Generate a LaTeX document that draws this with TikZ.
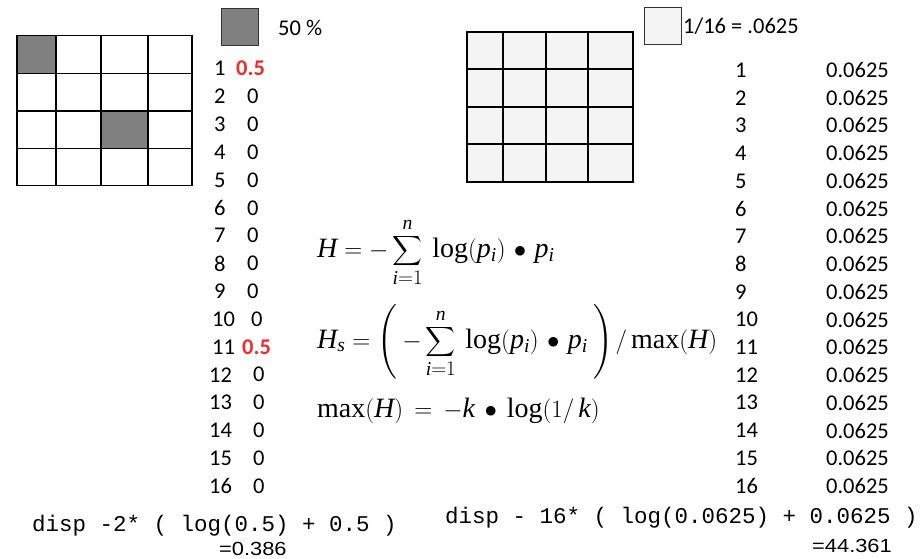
\documentclass[tikz,border=0pt]{standalone}
\usepackage{exscale}
\usepackage{fontspec}
\setmainfont{Carlito}
\setmonofont{Liberation Mono}
\setmathrm{Liberation Serif}
\newfontfamily\resultfont{Liberation Sans}
\newfontfamily\tmsfont[NFSSFamily=tmsx]{Liberation Serif}
\DeclareSymbolFont{tmsletters}{TU}{tmsx}{m}{it}
\DeclareSymbolFont{tmsupright}{TU}{tmsx}{m}{n}
\DeclareMathSymbol{H}{\mathalpha}{tmsletters}{`H}
\DeclareMathSymbol{k}{\mathalpha}{tmsletters}{`k}
\DeclareMathSymbol{n}{\mathalpha}{tmsletters}{`n}
\DeclareMathSymbol{p}{\mathalpha}{tmsletters}{`p}
\DeclareMathSymbol{i}{\mathalpha}{tmsletters}{`i}
\DeclareMathSymbol{s}{\mathalpha}{tmsletters}{`s}
\DeclareMathSymbol{/}{\mathord}{tmsupright}{`/}
\DeclareMathSymbol{1}{\mathord}{tmsupright}{`1}
\DeclareMathSymbol{(}{\mathopen}{tmsupright}{`(}
\DeclareMathSymbol{)}{\mathclose}{tmsupright}{`)}
\DeclareMathSymbol{=}{\mathrel}{tmsupright}{`=}
\newcommand\smsum{\mathop{\vcenter{\hbox{\fontsize{22}{26}\selectfont$\displaystyle\sum$}}}\limits}
\newcommand\tallstrut{\vcenter{\hbox{\rule{0pt}{70pt}}}}
\definecolor{cellgray}{RGB}{128,128,128}
\definecolor{cellpale}{RGB}{243,244,243}
\definecolor{hotred}{RGB}{240,45,45}
\begin{document}
\begin{tikzpicture}[x=1pt,y=-1pt,
  txt/.style={font=\fontsize{22.5}{27}\selectfont, inner sep=0pt, anchor=west},
  redval/.style={txt, text=hotred, font=\fontsize{22.5}{27}\selectfont\bfseries},
  valright/.style={txt, anchor=east},
  gridline/.style={line width=1.3pt, draw=black, line cap=rect},
  legendbox/.style={draw=black!80, line width=1pt, inner sep=0pt, minimum width=37pt, minimum height=37pt},
  eqn/.style={font=\fontsize{28}{34}\selectfont, inner sep=0pt, anchor=base west},
  code/.style={font=\fontsize{22.5}{27}\selectfont\ttfamily, inner sep=0pt, anchor=west},
  result/.style={font=\fontsize{19}{23}\selectfont\resultfont, inner sep=0pt, anchor=west}
]
\useasboundingbox (0,0) rectangle (924,559);

% ---- left grid ----
\fill[cellgray] (17,35.7) rectangle (56,73.3);
\fill[cellgray] (101,111) rectangle (148,148.3);
\foreach \gx in {17,56,101,148,192} \draw[gridline] (\gx,35.7) -- (\gx,185.7);
\foreach \gy in {35.7,73.3,111,148.3,185.7} \draw[gridline] (17,\gy) -- (192,\gy);

% ---- right grid ----
\fill[cellpale] (467,32) rectangle (633,182);
\foreach \gx in {467,503,546,588,633} \draw[gridline] (\gx,32) -- (\gx,182);
\foreach \gy in {32,69,107,144,182} \draw[gridline] (467,\gy) -- (633,\gy);

% ---- legends ----
\node[legendbox, fill=cellgray] (legA) at (239.5,27.5) {};
\node[txt] (legAtxt) at (278,28) {50 \%};
\node[legendbox, fill=cellpale] (legB) at (663,26.5) {};
\node[txt] (legBtxt) at (683,26) {1/16 = .0625};

% ---- left list ----
\foreach \i in {1,...,9} {
  \node[txt] (ln\i) at (214,{68.7+27.82*(\i-1)}) {\i};
}
\foreach \i in {2,...,9} {
  \node[txt] (lv\i) at (247,{68.7+27.82*(\i-1)}) {0};
}
\node[redval] (lv1) at (236,68.7) {0.5};
\node[txt] (ln10) at (212,{68.7+27.82*9}) {10};
\node[txt] (lv10) at (251,{68.7+27.82*9}) {0};
\node[txt] (ln11) at (212,{68.7+27.82*10}) {11};
\node[redval] (lv11) at (242,{68.7+27.82*10}) {0.5};
\foreach \i in {12,...,16} {
  \node[txt] (ln\i) at (209,{68.7+27.82*(\i-1)}) {\i};
  \node[txt] (lv\i) at (253,{68.7+27.82*(\i-1)}) {0};
}

% ---- right list ----
\foreach \i in {1,...,16} {
  \node[txt] (rn\i) at (735,{70+27.73*(\i-1)}) {\i};
  \node[valright] (rv\i) at (889,{70+27.73*(\i-1)}) {0.0625};
}

% ---- equations ----
\node[eqn] (eqA) at (317,257) {$\displaystyle H=-\smsum_{i=1}^{n}\mkern4mu\log(p_i)\mkern2mu\bullet\mkern2mu p_i$};
\node[eqn] (eqB) at (317,348) {$\displaystyle H_s=\mathopen{\left(\tallstrut\right.}\mkern3mu\mathord{-}\smsum_{i=1}^{n}\mkern4mu\log(p_i)\mkern2mu\bullet\mkern2mu p_i\mkern3mu\mathclose{\left.\tallstrut\right)}\mkern2mu/\max(H)$};
\node[eqn] (eqC) at (317,417) {$\displaystyle \max(H)\mkern3mu=\mkern3mu-k\mkern3mu\bullet\mkern3mu\log(1/\,k)$};

% ---- bottom code lines ----
\node[code] (codeA) at (32,526) {disp -2* ( log(0.5) + 0.5 )};
\node[result] (resA) at (219,549) {\scalebox{1.15}[1]{=0.386}};
\node[code] (codeB) at (445,518) {disp - 16* ( log(0.0625) + 0.0625 )};
\node[result] (resB) at (812,546) {\scalebox{1.15}[1]{=44.361}};
\end{tikzpicture}
\end{document}
